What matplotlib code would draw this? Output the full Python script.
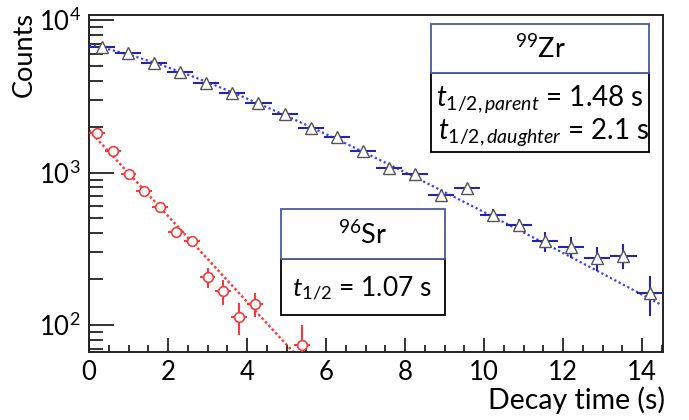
import numpy as np
import matplotlib
matplotlib.use("Agg")
import matplotlib.pyplot as plt
from matplotlib.patches import Rectangle
from matplotlib.ticker import LogLocator, MultipleLocator, NullFormatter

plt.rcParams['font.family'] = ['Lato', 'DejaVu Sans']
plt.rcParams['mathtext.fontset'] = 'custom'
plt.rcParams['mathtext.rm'] = 'Lato'
plt.rcParams['mathtext.it'] = 'Lato:italic'

# ---- data ----
zr_t = [0.33, 0.99, 1.65, 2.31, 2.97, 3.63, 4.29, 4.95, 5.61, 6.27, 6.93,
        7.59, 8.25, 8.91, 9.57, 10.23, 10.89, 11.55, 12.21, 12.87, 13.53, 14.19]
zr_counts = [6700, 6120, 5260, 4590, 3860, 3300, 2850, 2430, 1950, 1710, 1390,
             1070, 981, 714, 790, 529, 454, 353, 327, 275, 285, 162]
zr_err = [110, 105, 100, 95, 90, 85, 80, 75, 70, 68, 65,
          60, 58, 55, 55, 48, 40, 52, 50, 49, 53, 48]
zr_terr = 0.33

sr_t = [0.2, 0.6, 1.0, 1.4, 1.8, 2.2, 2.6, 3.0, 3.4, 3.8, 4.2, 5.4]
sr_counts = [1810, 1388, 980, 762, 593, 410, 358, 205, 166, 113, 137, 73.5]
sr_err = [60, 52, 45, 40, 35, 30, 25, 30, 30, 27, 24, 27]
sr_terr = 0.2

# fit parameters (half-lives from the chart)
zr_thalf_parent = 1.48
zr_thalf_daughter = 2.1
zr_amp_a = 17630
zr_amp_b = -10760
sr_thalf = 1.07
sr_amp = 1895

W, H = 689, 420
fig = plt.figure(figsize=(W / 100, H / 100), dpi=100)
ax = fig.add_axes([89 / W, 1 - 352 / H, (663 - 89) / W, (352 - 15) / H])

# fits
tz = np.linspace(0, 14.45, 300)
lp = np.log(2) / zr_thalf_parent
ld = np.log(2) / zr_thalf_daughter
zr_fit = zr_amp_a * np.exp(-ld * tz) + zr_amp_b * np.exp(-lp * tz)
ax.plot(tz, zr_fit, ls=(0, (1, 1.2)), color='#3c3cff', lw=1.6, zorder=2)

ts = np.linspace(0, 5.3, 200)
sr_fit = sr_amp * np.exp(-np.log(2) / sr_thalf * ts)
ax.plot(ts, sr_fit, ls=(0, (1, 1.0)), color='#ff3a3a', lw=1.8, zorder=2)

# data
ax.errorbar(zr_t, zr_counts, yerr=zr_err, xerr=zr_terr, fmt='^', ms=9,
            mfc='white', mec='#555555', mew=1.0, ecolor='#2525a8',
            elinewidth=1.5, capsize=0, zorder=3)
ax.errorbar(sr_t, sr_counts, yerr=sr_err, xerr=sr_terr, fmt='o', ms=7,
            mfc='white', mec='#f03c3c', mew=1.2, ecolor='#f03c3c',
            elinewidth=1.5, capsize=0, zorder=3)

ax.set_yscale('log')
ax.set_xlim(0, 14.53)
ax.set_ylim(66.5, 10800)

ax.yaxis.set_major_locator(LogLocator(base=10, numticks=10))
ax.yaxis.set_minor_locator(LogLocator(base=10, subs=np.arange(2, 10), numticks=20))
ax.yaxis.set_minor_formatter(NullFormatter())
ax.xaxis.set_major_locator(MultipleLocator(2))
ax.xaxis.set_minor_locator(MultipleLocator(0.5))

ax.tick_params(axis='both', which='both', direction='in', top=False, right=False,
               colors='#222222', labelsize=18.5, width=1.3)
ax.tick_params(axis='y', which='major', length=18, pad=6)
ax.tick_params(axis='y', which='minor', length=10)
ax.tick_params(axis='x', which='major', length=10, pad=6)
ax.tick_params(axis='x', which='minor', length=5)
for lab in ax.get_xticklabels() + ax.get_yticklabels():
    lab.set_color('black')
for s in ax.spines.values():
    s.set_linewidth(1.4)
    s.set_color('#222222')

fig.text(24 / W, 1 - 12 / H, 'Counts', rotation=90, ha='center', va='top', fontsize=19.5)
fig.text(665 / W, 1 - 400 / H, 'Decay time (s)', ha='right', va='center', fontsize=20.5)

# legend boxes
def box(x0, y0, xdiv, x1, y1):
    fig.patches.append(Rectangle((x0 / W, 1 - y1 / H), (x1 - x0) / W, (y1 - xdiv) / H,
                                 transform=fig.transFigure, fill=True, fc='white',
                                 ec='black', lw=1.3, zorder=5))
    fig.patches.append(Rectangle((x0 / W, 1 - xdiv / H), (x1 - x0) / W, (xdiv - y0) / H,
                                 transform=fig.transFigure, fill=True, fc='white',
                                 ec='#4a5a9c', lw=1.3, zorder=6))

box(431, 24, 73, 649, 152)
fig.text(540 / W, 1 - 49 / H, r'$^{99}$Zr', ha='center', va='center', fontsize=19.5, zorder=7)
fig.text(436 / W, 1 - 99 / H, r'$\mathit{t_{1/2,parent}}$ = 1.48 s', ha='left', va='center',
         fontsize=20, zorder=7)
fig.text(438 / W, 1 - 132 / H, r'$\mathit{t_{1/2,daughter}}$ = 2.1 s', ha='left', va='center',
         fontsize=20, zorder=7)

box(281, 209, 259, 445, 315)
fig.text(363 / W, 1 - 235 / H, r'$^{96}$Sr', ha='center', va='center', fontsize=19.5, zorder=7)
fig.text(362 / W, 1 - 288 / H, r'$\mathit{t_{1/2}}$ = 1.07 s', ha='center', va='center',
         fontsize=19, zorder=7)

fig.savefig('out.png', dpi=100)
